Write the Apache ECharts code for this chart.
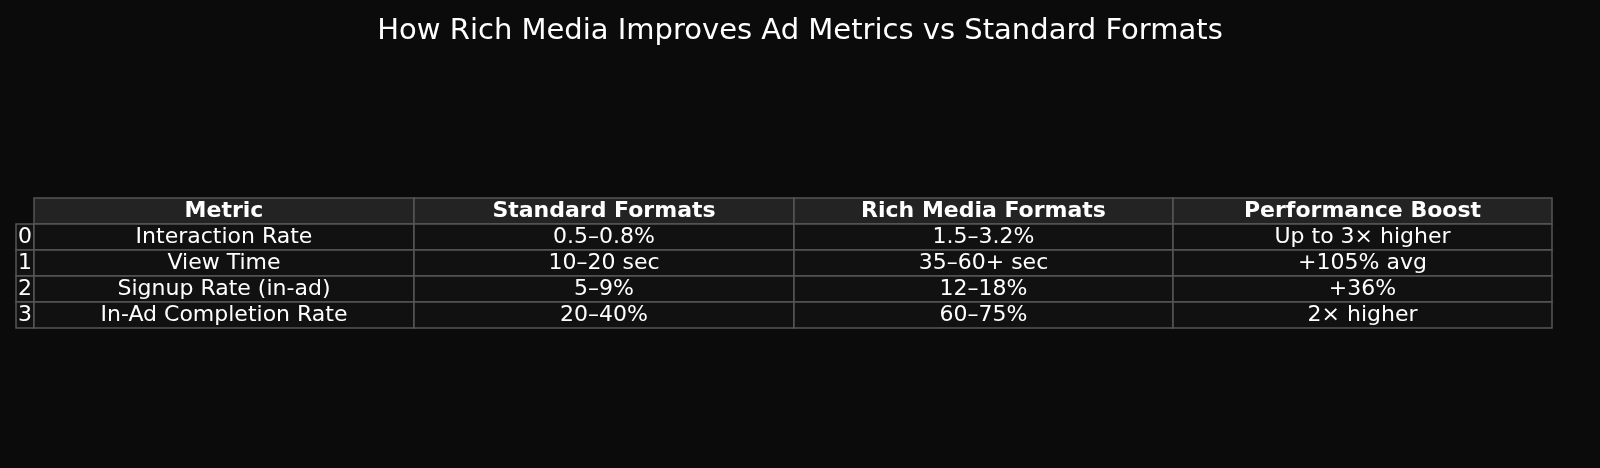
<!DOCTYPE html>
<html>
<head>
<meta charset="utf-8">
<script src="https://cdn.jsdelivr.net/npm/echarts@6/dist/echarts.min.js"></script>
<style>
html, body { margin: 0; background: #0b0b0b; }
#chart { width: 1600px; height: 468px; }
</style>
</head>
<body>
<div id="chart"></div>
<script>
var columns = ['Metric', 'Standard Formats', 'Rich Media Formats', 'Performance Boost'];
var rowLabels = ['0', '1', '2', '3'];
var metric = ['Interaction Rate', 'View Time', 'Signup Rate (in-ad)', 'In-Ad Completion Rate'];
var standard = ['0.5–0.8%', '10–20 sec', '5–9%', '20–40%'];
var richMedia = ['1.5–3.2%', '35–60+ sec', '12–18%', '60–75%'];
var boost = ['Up to 3× higher', '+105% avg', '+36%', '2× higher'];
// column edges in table units (index column is narrow)
var colEdges = [0, 18, 398, 778, 1157, 1536];

var cells = [];
// header row (no index cell)
for (var c = 0; c < columns.length; c++) {
    cells.push([c + 1, 0, columns[c], 1]);
}
var body = [metric, standard, richMedia, boost];
for (var r = 0; r < rowLabels.length; r++) {
    cells.push([0, r + 1, rowLabels[r], 0]);
    for (var c = 0; c < body.length; c++) {
        cells.push([c + 1, r + 1, body[c][r], 0]);
    }
}

var chart = echarts.init(document.getElementById('chart'));
chart.setOption({
    backgroundColor: '#0b0b0b',
    title: {
        text: 'How Rich Media Improves Ad Metrics vs Standard Formats',
        left: 'center',
        top: 12,
        textStyle: { color: '#ffffff', fontSize: 29, fontWeight: 'normal', fontFamily: 'DejaVu Sans' }
    },
    grid: { left: 16, top: 198, width: 1536, height: 130 },
    xAxis: { type: 'value', min: 0, max: 1536, show: false },
    yAxis: { type: 'value', min: 0, max: 5, inverse: true, show: false },
    series: [{
        type: 'custom',
        data: cells,
        renderItem: function(params, api) {
            var c = api.value(0), r = api.value(1);
            var header = api.value(3) === 1;
            var p0 = api.coord([colEdges[c], r]);
            var p1 = api.coord([colEdges[c + 1], r + 1]);
            return {
                type: 'group',
                children: [{
                    type: 'rect',
                    shape: { x: p0[0], y: p0[1], width: p1[0] - p0[0], height: p1[1] - p0[1] },
                    style: { fill: header ? '#232323' : '#111111', stroke: '#555555', lineWidth: 1.5 }
                }, {
                    type: 'text',
                    style: {
                        x: (p0[0] + p1[0]) / 2,
                        y: (p0[1] + p1[1]) / 2,
                        text: cells[params.dataIndex][2],
                        fill: '#ffffff',
                        align: 'center',
                        verticalAlign: 'middle',
                        font: (header ? 'bold ' : '') + '22px "DejaVu Sans"'
                    }
                }]
            };
        }
    }]
});
</script>
</body>
</html>
